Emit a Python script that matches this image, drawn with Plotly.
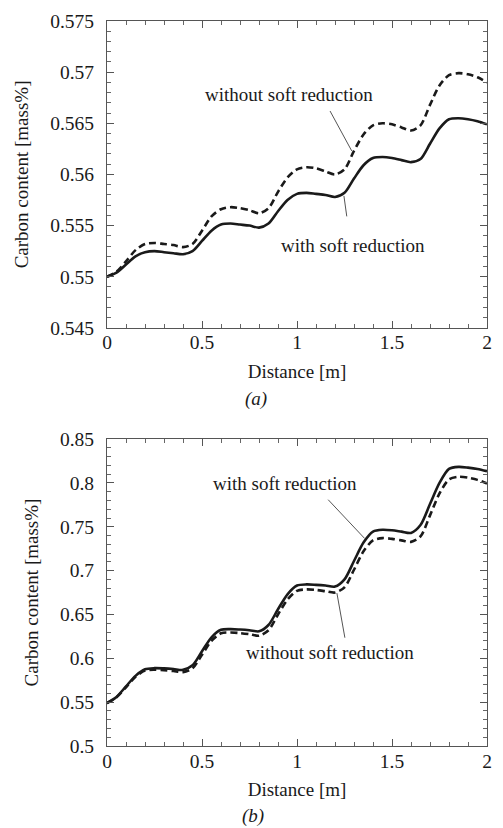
import plotly.graph_objects as go

# ---------------- data ----------------
distance = [0.00, 0.05, 0.10, 0.15, 0.20, 0.25, 0.30, 0.35, 0.40, 0.45,
            0.50, 0.55, 0.60, 0.65, 0.70, 0.75, 0.80, 0.85, 0.90, 0.95,
            1.00, 1.05, 1.10, 1.15, 1.20, 1.25, 1.30, 1.35, 1.40, 1.45,
            1.50, 1.55, 1.60, 1.65, 1.70, 1.75, 1.80, 1.85, 1.90, 1.95, 2.00]

a_with = [0.5500, 0.5504, 0.5512, 0.5520, 0.5524, 0.5525, 0.5524, 0.5523, 0.5522, 0.5525,
          0.5535, 0.5545, 0.5551, 0.5552, 0.5551, 0.5550, 0.5548, 0.5552, 0.5564, 0.5575,
          0.5581, 0.5582, 0.5581, 0.5580, 0.5578, 0.5582, 0.5596, 0.5609, 0.5616, 0.5617,
          0.5616, 0.5614, 0.5612, 0.5615, 0.5630, 0.5645, 0.5654, 0.5655, 0.5654, 0.5652, 0.5649]

a_without = [0.5500, 0.5505, 0.5515, 0.5526, 0.5532, 0.5533, 0.5532, 0.5531, 0.5529, 0.5532,
             0.5545, 0.5559, 0.5566, 0.5568, 0.5567, 0.5565, 0.5562, 0.5567, 0.5583, 0.5597,
             0.5605, 0.5607, 0.5606, 0.5603, 0.5600, 0.5605, 0.5623, 0.5639, 0.5648, 0.5650,
             0.5649, 0.5646, 0.5643, 0.5648, 0.5668, 0.5687, 0.5697, 0.5699, 0.5698, 0.5695, 0.5690]

b_with = [0.5490, 0.5560, 0.5680, 0.5800, 0.5875, 0.5888, 0.5885, 0.5878, 0.5868, 0.5920,
          0.6080, 0.6240, 0.6325, 0.6333, 0.6328, 0.6320, 0.6308, 0.6380, 0.6560, 0.6730,
          0.6830, 0.6843, 0.6838, 0.6830, 0.6818, 0.6900, 0.7110, 0.7320, 0.7445, 0.7466,
          0.7460, 0.7445, 0.7430, 0.7520, 0.7760, 0.8000, 0.8160, 0.8183, 0.8175, 0.8160, 0.8134]

b_without = [0.5490, 0.5555, 0.5670, 0.5790, 0.5860, 0.5870, 0.5865, 0.5855, 0.5843, 0.5885,
             0.6040, 0.6200, 0.6285, 0.6295, 0.6288, 0.6275, 0.6258, 0.6320, 0.6500, 0.6670,
             0.6770, 0.6786, 0.6780, 0.6765, 0.6750, 0.6810, 0.7010, 0.7220, 0.7345, 0.7371,
             0.7362, 0.7345, 0.7328, 0.7390, 0.7630, 0.7880, 0.8040, 0.8070, 0.8060, 0.8035, 0.7994]

x_ticks = [0, 0.5, 1, 1.5, 2]
label_with = "with soft reduction"
label_without = "without soft reduction"

# ---------------- figure ----------------
FONT = "Liberation Serif, Times New Roman, serif"
INK = "#1a1a1a"

fig = go.Figure()

solid = dict(color=INK, width=2.6, shape="spline", smoothing=0.8)
dashed = dict(color=INK, width=2.6, dash="7px,4px", shape="spline", smoothing=0.8)

fig.add_trace(go.Scatter(x=distance, y=a_without, mode="lines", line=dashed,
                         name=label_without, xaxis="x", yaxis="y"))
fig.add_trace(go.Scatter(x=distance, y=a_with, mode="lines", line=solid,
                         name=label_with, xaxis="x", yaxis="y"))
fig.add_trace(go.Scatter(x=distance, y=b_without, mode="lines", line=dashed,
                         name=label_without, xaxis="x2", yaxis="y2"))
fig.add_trace(go.Scatter(x=distance, y=b_with, mode="lines", line=solid,
                         name=label_with, xaxis="x2", yaxis="y2"))

axis_common = dict(
    showline=True, linecolor="#555", linewidth=1.2, mirror="allticks",
    ticks="inside", ticklen=7, tickwidth=1, tickcolor="#555",
    showgrid=False, zeroline=False,
    tickfont=dict(family=FONT, size=19.5, color=INK),
)

xaxis_common = dict(axis_common, range=[0, 2], tickvals=x_ticks,
                    ticklabelstandoff=-3,
                    minor=dict(dtick=0.1, ticks="inside", ticklen=4, tickcolor="#666", showgrid=False),
                    title=dict(text="Distance [m]", font=dict(family=FONT, size=19, color=INK), standoff=12))

fig.update_layout(
    width=503, height=828,
    margin=dict(l=107, r=11, t=16, b=82),
    paper_bgcolor="white", plot_bgcolor="white",
    showlegend=False,
    font=dict(family=FONT, size=19, color=INK),
    xaxis=dict(xaxis_common, domain=[0, 1], anchor="y"),
    yaxis=dict(axis_common, domain=[0.5767, 1], anchor="x",
               range=[0.545, 0.575], dtick=0.005,
               minor=dict(dtick=0.001, ticks="inside", ticklen=4, tickcolor="#666", showgrid=False),
               ticklabelstandoff=8,
               title=dict(text="Carbon content [mass%]", font=dict(family=FONT, size=19, color=INK), standoff=16)),
    xaxis2=dict(xaxis_common, domain=[0, 1], anchor="y2"),
    yaxis2=dict(axis_common, domain=[0, 0.4233], anchor="x2",
                range=[0.5, 0.85], dtick=0.05,
                minor=dict(dtick=0.01, ticks="inside", ticklen=4, tickcolor="#666", showgrid=False),
                ticklabelstandoff=8,
                title=dict(text="Carbon content [mass%]", font=dict(family=FONT, size=19, color=INK), standoff=16)),
)

txt = dict(family=FONT, size=19, color=INK)
annotations = [
    dict(text=label_without, x=0.96, y=0.5678, xref="x", yref="y", showarrow=False, font=txt),
    dict(text=label_with, x=1.294, y=0.5531, xref="x", yref="y", showarrow=False, font=txt),
    dict(text=label_with, x=0.935, y=0.799, xref="x2", yref="y2", showarrow=False, font=txt),
    dict(text=label_without, x=1.174, y=0.6065, xref="x2", yref="y2", showarrow=False, font=txt),
    dict(text="<i>(a)</i>", x=0.392, y=0.479, xref="paper", yref="paper", showarrow=False, font=txt,
         xanchor="center", yanchor="middle"),
    dict(text="<i>(b)</i>", x=0.384, y=-0.096, xref="paper", yref="paper", showarrow=False, font=txt,
         xanchor="center", yanchor="middle"),
]
fig.update_layout(annotations=annotations)

leader = dict(color="#555", width=1)
fig.add_shape(type="line", xref="x", yref="y", x0=1.174, y0=0.5662, x1=1.288, y1=0.5623, line=leader)
fig.add_shape(type="line", xref="x", yref="y", x0=1.247, y0=0.5579, x1=1.262, y1=0.5559, line=leader)
fig.add_shape(type="line", xref="x2", yref="y2", x0=1.164, y0=0.7809, x1=1.356, y1=0.7367, line=leader)
fig.add_shape(type="line", xref="x2", yref="y2", x0=1.21, y0=0.6744, x1=1.252, y1=0.6235, line=leader)

fig.write_html("out.html")
